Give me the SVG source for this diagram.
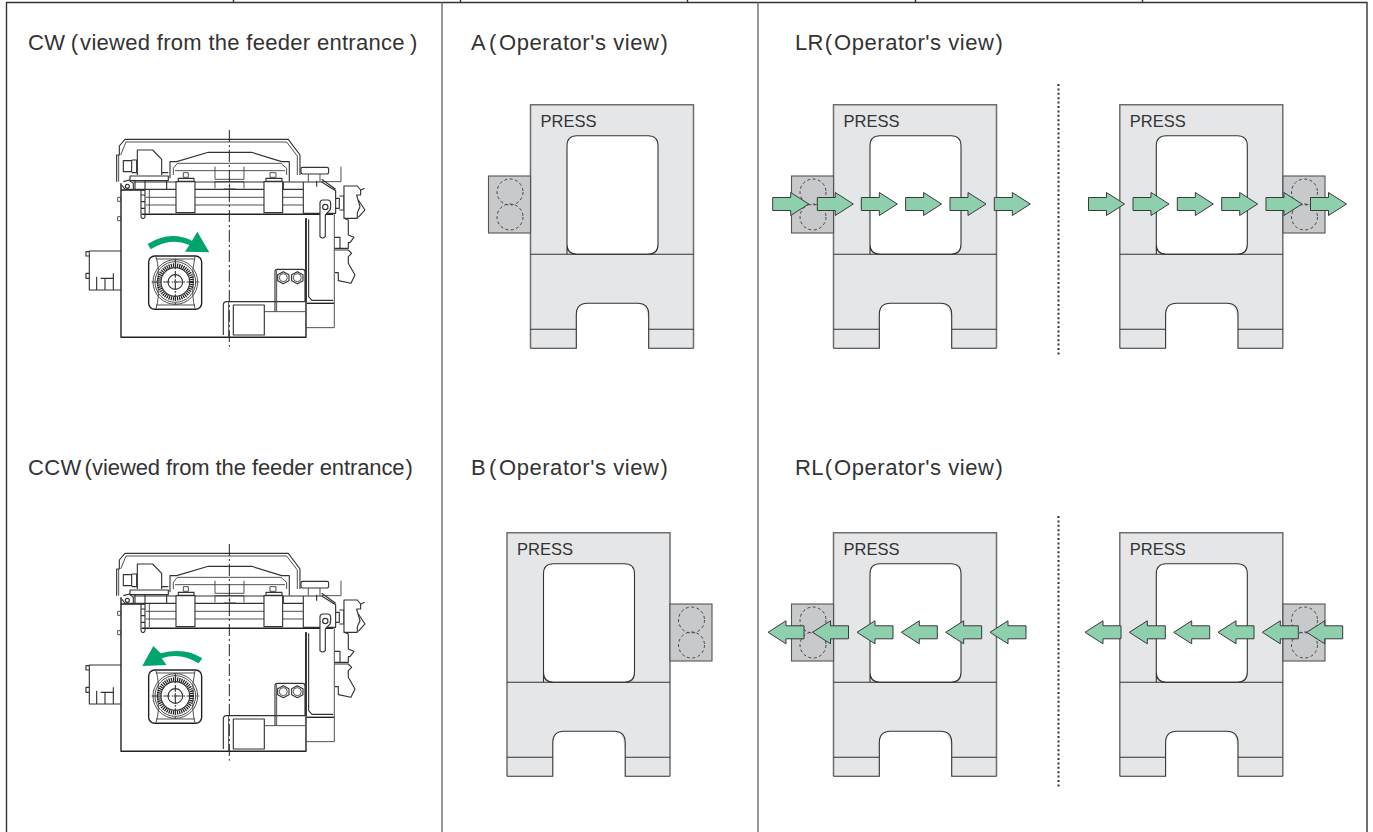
<svg xmlns="http://www.w3.org/2000/svg" xmlns:xlink="http://www.w3.org/1999/xlink" width="1373" height="832" viewBox="0 0 1373 832">
<style>
text{font-family:"Liberation Sans","Noto Sans CJK JP",sans-serif;fill:#333}
.t{font-size:22px;letter-spacing:.3px}
.v{letter-spacing:.55px}
.p{font-size:16.5px}
.ln{stroke:#333;stroke-width:1.1;fill:none}
.gr{stroke:#6e6e6e;stroke-width:1.5;fill:none}
.fr{stroke:#777;stroke-width:1.5;fill:none}
.m{fill:none;stroke:#333;stroke-width:3.4;stroke-linejoin:round}
.m2{fill:none;stroke:#444;stroke-width:2.8}
.m3{fill:none;stroke:#222;stroke-width:4.2;stroke-linejoin:round}
.w{fill:#fff}
.arr{fill:#8ecfae;stroke:#3a3a3a;stroke-width:1}
.turn{fill:#00a56e}
.dot{stroke:#333;stroke-width:2;stroke-dasharray:2 2.4;fill:none}
</style>
<defs>
<g id="press">
<path d="M0 0H163V149.500H0Z M0 149.500H163V243.500H118V224Q118 198.500 106 198.500H58Q46 198.500 46 210V243.500H0Z" fill="#e5e6e8" stroke="none"/>
<rect x="36.500" y="31" width="91" height="118.500" rx="10" fill="#fff" stroke="none"/>
<path class="gr" d="M0 243.500V0H163V243.500"/>
<path class="ln" d="M36.500 149.500V41Q36.500 31 46.500 31H117.500Q127.500 31 127.500 41V139.500Q127.500 149.500 117.500 149.500H46.500Q36.500 149.500 36.500 139.500Z"/>
<path class="ln" d="M0 149.500H163M0 224.500H45.800M118.200 224.500H163"/>
<path class="ln" d="M0 243.500H45.800V210Q45.800 198.500 57 198.500H107Q118.200 198.500 118.200 210V243.500H163"/>
<text class="p" x="10" y="22">PRESS</text>
</g>
<g id="box">
<rect x="0" y="0" width="42" height="57" fill="#c8c9cb" stroke="#555" stroke-width="1.1"/>
<g fill="none" stroke="#444" stroke-width="1" stroke-dasharray="3 2.5">
<circle cx="21.500" cy="16" r="13"/>
<circle cx="21.500" cy="41" r="13"/>
</g>
</g>
<path id="ar" class="arr" d="M0 -6.500H18V-11.500L36 0L18 11.500V6.500H0Z"/>
<path id="al" class="arr" d="M36 -6.500H18V-11.500L0 0L18 11.500V6.500H36Z"/>
<g id="machine">
<path class="m" d="M140 185V105H148V78L165 58H655L690 105V165"/>
<path class="m2" d="M152 105L168 66H650L682 108V165M146 105V185"/>
<path class="m" d="M160 122H185V155H160ZM185 120H200V158H185"/>
<path class="m" d="M202 165V90H248L275 118V165"/>
<path class="m" d="M180 168H295V182H180ZM275 158H295M290 182V208M195 182V208M225 182V208"/>
<path class="m" d="M300 175V125H320L415 97H545L635 125H658V185"/>
<path class="m2" d="M322 130H633M310 165V145L322 130M650 165V145L633 130M315 152H645M435 140V178H522V140"/>
<path class="m2" d="M435 185H522V205M435 205V185M462 207H497M479 190V207"/>
<path class="m w" d="M325 184H372V175H325ZM588 184H636V175H588Z"/>
<path class="m2" d="M340 158H355V172H340ZM600 158H618V172H600Z"/>
<path class="m3" d="M153 210H225M153 190V652H708V295"/>
<path class="m" d="M160 185L178 180L190 190V208H165L155 195"/>
<circle class="m" cx="172" cy="199" r="6"/>
<path class="m" d="M190 186H318M375 186H582M638 186H700M640 186V208M190 208H700"/>
<path class="m2" d="M228 232H700M228 255H700M238 210V280"/>
<path class="m3" d="M215 283H790"/>
<path class="m" d="M213 210H225V290Q219 302 213 290Z M213 225H225M213 245H225M213 265H225"/>
<rect class="m w" x="318" y="185" width="57" height="93"/>
<rect class="m w" x="582" y="185" width="56" height="93"/>
<path class="m2" d="M143 232H152V244H143ZM143 290H152V302H143Z"/>
<rect class="m w" x="693" y="142" width="83" height="20" rx="5"/>
<path class="m2" d="M715 162V185M750 162V185M813 140V185H755"/>
<path class="m" d="M700 186H755L797 212V280H700V186M755 178L797 208M740 182V200"/>
<rect class="m w" x="750" y="240" width="32" height="30" rx="9"/>
<path class="m w" d="M750 265V350Q758 358 766 350V285L782 268"/>
<circle class="m w" cx="766" cy="261" r="8"/>
<path class="m" d="M797 235H808V265H797M808 228H822V270H808"/>
<path class="m w" d="M822 198H862L872 210V225H860L870 260L862 278V295H822Z"/>
<path class="m" d="M872 210L884 205M865 240L885 270L865 292"/>
<path class="m" d="M822 295L835 300V345L852 352L840 368H835V385H793M793 352H810V385"/>
<path class="m" d="M793 390H835L845 400L835 410V430L855 465L843 490L805 482V458H795"/>
<path class="m3" d="M708 295V545"/>
<path class="m" d="M716 298V530L726 541H790"/>
<path class="m3" d="M710 550H792"/>
<path class="m2" d="M793 283V623H708"/>
<path class="m" d="M615 575V455Q615 448 622 448H698Q705 448 705 455V545H470Q460 545 460 555V645"/>
<path class="m2" d="M620 452V575H705M476 546V650"/>
<rect class="m" x="490" y="555" width="93" height="90"/>
<path class="m2" d="M583 575H620"/>
<path class="m" d="M640 455L657 464V482L640 491L623 482V464ZM682 455L699 464V482L682 491L665 482V464Z"/>
<circle class="m2" cx="640" cy="473" r="12"/>
<circle class="m2" cx="682" cy="473" r="12"/>
<path class="m" d="M153 393H58V510H153M48 395H58V408H48ZM48 460H58V475H48ZM80 470V510M105 475V510M130 460V510M92 475H132"/>
<rect class="m3" x="236" y="408" width="159" height="160" rx="18"/>
<path class="m2" d="M258 410Q270 450 262 486Q270 530 258 566M375 410Q365 450 370 486Q365 530 375 566M258 417H375M258 555H375"/>
<circle class="m2" cx="316" cy="486" r="67"/>
<circle class="m2" cx="316" cy="486" r="61"/>
<circle cx="316" cy="486" r="50" fill="none" stroke="#222" stroke-width="12" stroke-dasharray="3.600 2.700"/>
<circle class="m" cx="316" cy="486" r="43"/>
<circle class="m" cx="316" cy="486" r="22"/>
<path class="m" d="M316 418V554M245 486H388" stroke-dasharray="20 5 5 5"/>
<circle class="m2" cx="316" cy="486" r="3"/>
<path d="M478 30V680" fill="none" stroke="#222" stroke-width="3" stroke-dasharray="36 9 6 9"/>
</g>
</defs>

<g id="frame">
<path class="ln" d="M6.500 832V2.500H1367V832M233.500 0V2.500M460.500 0V2.500M687.500 0V2.500M915.500 0V2.500M1142.500 0V2.500" style="stroke-width:1.4"/>
<path class="fr" d="M442 2.500V832M758 2.500V832"/>
</g>

<g id="cw">
<text class="t" x="28" y="49.500">CW<tspan dx="5.500">(</tspan><tspan dx="1.700">viewed from the feeder entrance</tspan><tspan dx="5">)</tspan></text>
<g transform="translate(70 120) scale(.3333)"><use href="#machine"/>
<path class="turn" d="M233 372Q300 330 366 362L382 335L418 397L345 395L358 375Q300 350 242 388Z"/></g>
</g>
<g id="ccw">
<text class="t" x="28" y="474.500">CCW<tspan dx="3">(</tspan><tspan style="letter-spacing:-.1px">viewed from the feeder entrance</tspan><tspan dx="1">)</tspan></text>
<g transform="translate(70 534) scale(.3333)"><use href="#machine"/>
<path class="turn" d="M397 373Q345 338 272 358L250 336L217 396L290 393L275 373Q330 353 386 388Z"/></g>
</g>

<g id="a">
<text class="t" x="471" y="49.500">A<tspan dx="3">(</tspan><tspan class="v" dx="2.400">Operator's view</tspan><tspan dx="1">)</tspan></text>
<use href="#press" x="530.500" y="104.700"/>
<use href="#box" x="488.500" y="176"/>
</g>
<g id="b">
<text class="t" x="471" y="474.500">B<tspan dx="3">(</tspan><tspan class="v" dx="2.400">Operator's view</tspan><tspan dx="1">)</tspan></text>
<use href="#press" x="507" y="532.700"/>
<use href="#box" x="670" y="604"/>
</g>

<g id="lr">
<text class="t" x="795" y="49.500">LR<tspan dx="1">(</tspan><tspan class="v" dx="1.700">Operator's view</tspan><tspan dx="1">)</tspan></text>
<use href="#press" x="833.500" y="104.700"/>
<use href="#box" x="791.500" y="176"/>
<use href="#press" x="1119.800" y="104.700"/>
<use href="#box" x="1283" y="176"/>
<path class="dot" d="M1058.500 84V356"/>
</g>
<g id="rl">
<text class="t" x="795" y="474.500">RL<tspan dx="1">(</tspan><tspan class="v" dx="1.700">Operator's view</tspan><tspan dx="1">)</tspan></text>
<use href="#press" x="833.500" y="532.700"/>
<use href="#box" x="791.500" y="604"/>
<use href="#press" x="1119.800" y="532.700"/>
<use href="#box" x="1283" y="604"/>
<path class="dot" d="M1058.500 516V788"/>
</g>

<g id="connectors">
<use href="#ar" x="772.700" y="204"/><use href="#ar" x="817.300" y="204"/><use href="#ar" x="861.300" y="204"/><use href="#ar" x="905.600" y="204"/><use href="#ar" x="950" y="204"/><use href="#ar" x="994.300" y="204"/>
<use href="#ar" x="1088.500" y="204"/><use href="#ar" x="1133" y="204"/><use href="#ar" x="1177.300" y="204"/><use href="#ar" x="1221.700" y="204"/><use href="#ar" x="1266" y="204"/><use href="#ar" x="1310.500" y="204"/>
<use href="#al" x="768" y="632.300"/><use href="#al" x="812.500" y="632.300"/><use href="#al" x="857" y="632.300"/><use href="#al" x="901.300" y="632.300"/><use href="#al" x="945.700" y="632.300"/><use href="#al" x="990" y="632.300"/>
<use href="#al" x="1085" y="632.300"/><use href="#al" x="1129.300" y="632.300"/><use href="#al" x="1173.700" y="632.300"/><use href="#al" x="1218" y="632.300"/><use href="#al" x="1262.300" y="632.300"/><use href="#al" x="1306.700" y="632.300"/>
</g>
</svg>
